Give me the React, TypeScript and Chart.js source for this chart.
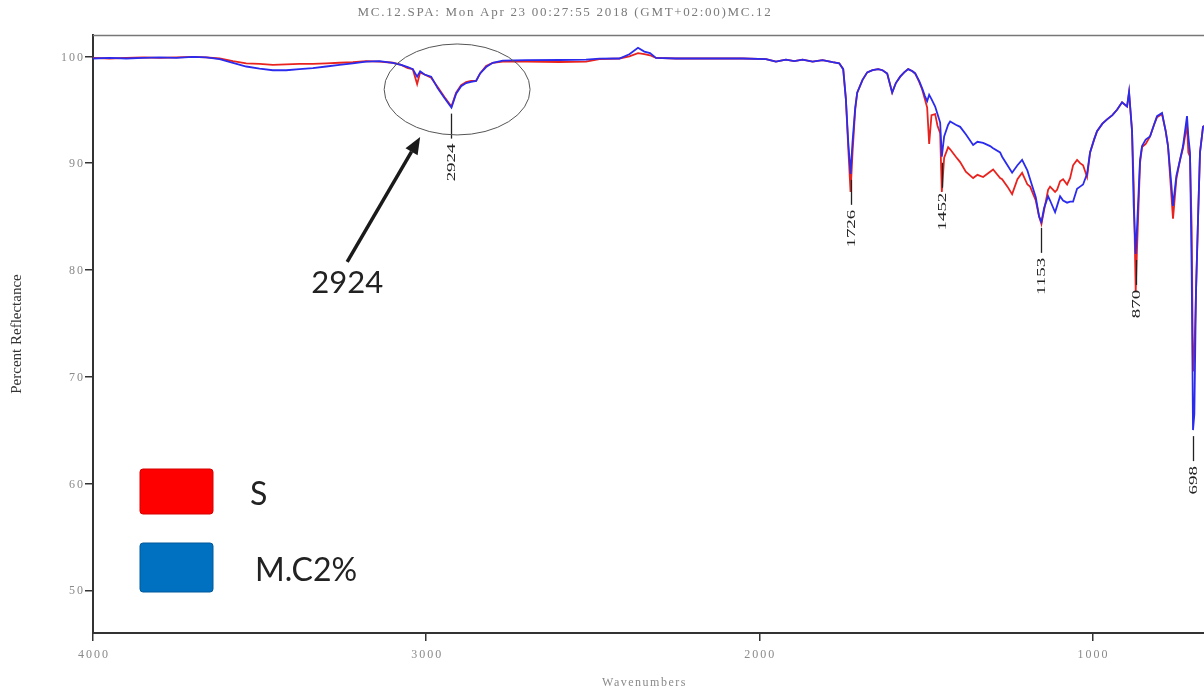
import { useEffect, useRef } from 'react';
import { Chart, registerables } from 'chart.js';

Chart.register(...registerables);

// Wavenumber grid (cm-1), descending, shared by both spectra
const wavenumbers = [
  4000, 3950, 3900, 3850, 3800, 3750, 3700, 3660, 3620, 3580, 3540, 3500, 3460, 3420, 3380, 3340,
  3300, 3260, 3220, 3180, 3140, 3100, 3075, 3055, 3040, 3027, 3018, 3005, 2985, 2965, 2945, 2924,
  2910, 2895, 2880, 2865, 2850, 2838, 2820, 2800, 2770, 2700, 2600, 2520, 2480, 2420, 2390, 2364,
  2345, 2328, 2310, 2250, 2150, 2050, 1980, 1950, 1920, 1895, 1870, 1840, 1810, 1780, 1760, 1748,
  1740, 1733, 1726, 1720, 1712, 1706, 1690, 1676, 1660, 1643, 1630, 1616, 1601, 1590, 1577, 1565,
  1553, 1540, 1532, 1520, 1511, 1503, 1496, 1490, 1483, 1472, 1465, 1457, 1452, 1445, 1433, 1427,
  1410, 1397, 1380, 1358, 1345, 1328, 1307, 1298, 1277, 1271, 1255, 1241, 1225, 1211, 1195, 1187,
  1170, 1160, 1153, 1145, 1133, 1127, 1112, 1106, 1097, 1088, 1076, 1067, 1058, 1046, 1037, 1028,
  1016, 1007, 995, 986, 970, 956, 940, 926, 911, 896, 890, 881, 876, 870, 866, 857,
  851, 840, 827, 815, 806, 791, 780, 773, 763, 758, 748, 737, 728, 716, 712, 707,
  702, 698, 694, 689, 683, 677, 668, 665,
];

// Percent reflectance, sample S
const reflectanceS = [
  99.85, 99.8, 99.85, 99.9, 99.85, 99.9, 99.95, 99.9, 99.8, 99.55, 99.35, 99.3, 99.2, 99.25, 99.3, 99.3,
  99.35, 99.4, 99.45, 99.55, 99.5, 99.4, 99.2, 98.9, 98.8, 97.4, 98.5, 98.3, 98.0, 97.1, 96.2, 95.3,
  96.6, 97.3, 97.6, 97.7, 97.7, 98.4, 99.1, 99.4, 99.5, 99.5, 99.47, 99.5, 99.75, 99.8, 100.0, 100.3,
  100.2, 100.1, 99.85, 99.8, 99.8, 99.8, 99.75, 99.5, 99.7, 99.55, 99.7, 99.5, 99.65, 99.45, 99.35, 98.8,
  96.0, 91.5, 87.3, 91.0, 95.0, 96.6, 97.8, 98.5, 98.7, 98.8, 98.7, 98.4, 96.6, 97.5, 98.1, 98.5,
  98.8, 98.6, 98.4, 97.6, 96.9, 96.0, 95.2, 91.8, 94.5, 94.6, 93.5, 92.8, 87.3, 90.5, 91.5, 91.3,
  90.6, 90.1, 89.2, 88.6, 88.9, 88.7, 89.2, 89.4, 88.6, 88.5, 87.8, 87.1, 88.5, 89.1, 88.0, 87.8,
  86.5, 85.0, 84.3, 85.6, 87.5, 87.8, 87.3, 87.5, 88.3, 88.5, 88.0, 88.6, 89.8, 90.3, 90.0, 89.8,
  88.7, 91.0, 92.2, 93.0, 93.7, 94.1, 94.5, 95.0, 95.7, 95.3, 96.6, 93.0, 88.0, 78.0, 82.0, 90.0,
  91.5, 91.8, 92.5, 93.6, 94.3, 94.6, 93.0, 91.6, 87.0, 84.8, 88.5, 90.3, 91.4, 93.6, 91.0, 90.6,
  84.0, 70.5, 72.0, 78.0, 84.7, 91.0, 93.4, 93.5,
];

// Percent reflectance, sample M.C2%
const reflectanceMC2 = [
  99.8, 99.85, 99.8, 99.85, 99.9, 99.85, 99.95, 99.9, 99.75, 99.4, 99.05, 98.85, 98.7, 98.7, 98.8, 98.9,
  99.05, 99.2, 99.35, 99.5, 99.55, 99.4, 99.2, 99.0, 98.8, 98.1, 98.6, 98.3, 98.1, 97.0, 96.1, 95.2,
  96.5, 97.2, 97.5, 97.6, 97.7, 98.4, 99.0, 99.4, 99.6, 99.65, 99.66, 99.7, 99.78, 99.8, 100.2, 100.8,
  100.45, 100.3, 99.85, 99.8, 99.8, 99.8, 99.75, 99.5, 99.7, 99.55, 99.7, 99.5, 99.65, 99.45, 99.35, 98.8,
  96.0, 92.0, 89.0, 92.0, 95.2, 96.6, 97.8, 98.5, 98.7, 98.8, 98.7, 98.4, 96.6, 97.5, 98.1, 98.5,
  98.8, 98.6, 98.4, 97.7, 97.0, 96.3, 95.8, 96.4, 96.0, 95.3, 94.6, 93.8, 90.6, 92.5, 93.6, 93.9,
  93.6, 93.4, 92.7, 91.7, 92.0, 91.9, 91.6, 91.4, 91.0, 90.6, 89.8, 89.1, 89.8, 90.3, 89.3, 88.5,
  86.8, 85.0, 84.5, 85.8, 86.9, 86.5, 85.4, 86.0, 86.9, 86.5, 86.3, 86.4, 86.4, 87.6, 87.8, 88.0,
  89.0, 91.0, 92.2, 93.0, 93.7, 94.1, 94.5, 95.0, 95.7, 95.3, 96.7, 93.0, 86.0, 81.5, 84.0, 90.3,
  91.6, 92.2, 92.5, 93.6, 94.4, 94.7, 93.0, 91.6, 88.0, 86.0, 88.8, 90.3, 91.6, 94.4, 92.5, 91.0,
  80.0, 65.0, 66.5, 78.0, 84.7, 91.0, 93.4, 93.5,
];

const seriesNames = ['S', 'M.C2%'];
const yTicks = [50, 60, 70, 80, 90, 100];
const xTicks = [4000, 3000, 2000, 1000];
const peakMarkers = [2924, 1726, 1452, 1153, 870, 698];

const titleText = 'MC.12.SPA: Mon Apr 23 00:27:55 2018 (GMT+02:00)MC.12';
const xTitle = 'Wavenumbers';
const yTitle = 'Percent Reflectance';

// Highlighted C-H stretch region: ellipse, arrow and callout label (data units)
const calloutLabel = '2924';
const calloutEllipse = { x: 2907, y: 96.9, rx: 219, ry: 4.26 };
const calloutArrow = { fromX: 3237, fromY: 80.75, toX: 3018, toY: 92.45 };
const calloutText = { x: 3237, y: 78.8 };

const COLOR_S = '#e8231f';
const COLOR_MC2 = '#2b2bee';
const LEGEND_S = '#ff0000';
const LEGEND_MC2 = '#0070c0';

const spectrumPlugin = {
  id: 'spectrumDecor',
  afterDatasetsDraw(chart: any) {
    const { ctx, chartArea, scales } = chart;
    const xs = scales.x;
    const ys = scales.y;
    ctx.save();

    // top frame line
    ctx.strokeStyle = '#777';
    ctx.lineWidth = 1.5;
    ctx.beginPath();
    ctx.moveTo(chartArea.left, chartArea.top + 0.5);
    ctx.lineTo(chartArea.right, chartArea.top + 0.5);
    ctx.stroke();

    // peak markers: tick line under the M.C2% trace plus rotated wavenumber label
    peakMarkers.forEach((wn) => {
      const idx = wavenumbers.indexOf(wn);
      if (idx < 0) return;
      const px = Math.round(xs.getPixelForValue(wn)) + 0.5;
      const py = ys.getPixelForValue(reflectanceMC2[idx]);
      const y0 = py + 6;
      const y1 = y0 + 25;
      ctx.strokeStyle = '#222';
      ctx.lineWidth = 1.3;
      ctx.beginPath();
      ctx.moveTo(px, y0);
      ctx.lineTo(px, y1);
      ctx.stroke();

      ctx.save();
      ctx.translate(px, y1 + 5);
      ctx.rotate(-Math.PI / 2);
      ctx.scale(1.45, 1);
      ctx.fillStyle = '#222';
      ctx.font = '13px "Liberation Serif", serif';
      ctx.textAlign = 'right';
      ctx.textBaseline = 'middle';
      ctx.fillText(String(wn), 0, 0);
      ctx.restore();
    });

    // ellipse around the 2924 band
    const ecx = xs.getPixelForValue(calloutEllipse.x);
    const ecy = ys.getPixelForValue(calloutEllipse.y);
    const erx = Math.abs(xs.getPixelForValue(calloutEllipse.x + calloutEllipse.rx) - ecx);
    const ery = Math.abs(ys.getPixelForValue(calloutEllipse.y + calloutEllipse.ry) - ecy);
    ctx.strokeStyle = '#555';
    ctx.lineWidth = 1;
    ctx.beginPath();
    ctx.ellipse(ecx, ecy, erx, ery, 0, 0, Math.PI * 2);
    ctx.stroke();

    // arrow
    const ax0 = xs.getPixelForValue(calloutArrow.fromX);
    const ay0 = ys.getPixelForValue(calloutArrow.fromY);
    const ax1 = xs.getPixelForValue(calloutArrow.toX);
    const ay1 = ys.getPixelForValue(calloutArrow.toY);
    const ang = Math.atan2(ay1 - ay0, ax1 - ax0);
    const headLen = 17;
    const headHalf = 7;
    const bx = ax1 - headLen * Math.cos(ang);
    const by = ay1 - headLen * Math.sin(ang);
    ctx.strokeStyle = '#1a1a1a';
    ctx.fillStyle = '#1a1a1a';
    ctx.lineWidth = 3.5;
    ctx.beginPath();
    ctx.moveTo(ax0, ay0);
    ctx.lineTo(bx, by);
    ctx.stroke();
    ctx.beginPath();
    ctx.moveTo(ax1, ay1);
    ctx.lineTo(bx + headHalf * Math.sin(ang), by - headHalf * Math.cos(ang));
    ctx.lineTo(bx - headHalf * Math.sin(ang), by + headHalf * Math.cos(ang));
    ctx.closePath();
    ctx.fill();

    // callout text
    ctx.fillStyle = '#222';
    ctx.font = '31px Lato, "Liberation Sans", sans-serif';
    ctx.textAlign = 'center';
    ctx.textBaseline = 'middle';
    ctx.fillText(calloutLabel, xs.getPixelForValue(calloutText.x), ys.getPixelForValue(calloutText.y));

    // legend swatches
    const lx = chartArea.left + 47;
    const swW = 73;
    const swH = [45, 49];
    const swTop = [chartArea.top + 434, chartArea.top + 508];
    const swColors = [LEGEND_S, LEGEND_MC2];
    const swEdges = ['#d40000', '#005a9c'];
    seriesNames.forEach((name, i) => {
      ctx.fillStyle = swColors[i];
      ctx.strokeStyle = swEdges[i];
      ctx.lineWidth = 1;
      ctx.beginPath();
      ctx.roundRect(lx, swTop[i], swW, swH[i], 3);
      ctx.fill();
      ctx.stroke();
      ctx.fillStyle = '#222';
      ctx.font = '32px Lato, "Liberation Sans", sans-serif';
      ctx.textAlign = 'left';
      ctx.textBaseline = 'middle';
      ctx.fillText(name, lx + (i === 0 ? 110 : 115), swTop[i] + swH[i] / 2 + 3);
    });

    ctx.restore();
  },
  afterDraw(chart: any) {
    const { ctx, chartArea, scales } = chart;
    const xs = scales.x;
    const ys = scales.y;
    ctx.save();
    ctx.fillStyle = '#8a8a8a';
    ctx.font = '12px "Liberation Serif", serif';
    (ctx as any).letterSpacing = '2px';

    // y tick labels
    ctx.textAlign = 'right';
    ctx.textBaseline = 'middle';
    yTicks.forEach((v) => {
      ctx.fillText(String(v), chartArea.left - 8, ys.getPixelForValue(v) + 1);
    });

    // x tick labels
    ctx.textAlign = 'center';
    ctx.textBaseline = 'middle';
    xTicks.forEach((v) => {
      ctx.fillText(String(v), xs.getPixelForValue(v) + 1, chartArea.bottom + 22);
    });

    // x title
    (ctx as any).letterSpacing = '1.5px';
    ctx.fillText(xTitle, (chartArea.left + 1204) / 2 - 4, chartArea.bottom + 50);

    // chart title
    ctx.fillStyle = '#7a7a7a';
    ctx.font = '13px "Liberation Serif", serif';
    (ctx as any).letterSpacing = '1.7px';
    ctx.fillText(titleText, 565, 13);

    // y title
    (ctx as any).letterSpacing = '0px';
    ctx.save();
    ctx.translate(17, (chartArea.top + chartArea.bottom) / 2);
    ctx.rotate(-Math.PI / 2);
    ctx.fillStyle = '#333';
    ctx.font = '15px "Liberation Serif", serif';
    ctx.textAlign = 'center';
    ctx.textBaseline = 'middle';
    ctx.fillText(yTitle, 0, 0);
    ctx.restore();

    ctx.restore();
  },
};

export default function App() {
  const canvasRef = useRef<HTMLCanvasElement | null>(null);

  useEffect(() => {
    const canvas = canvasRef.current;
    if (!canvas) return;
    const toPoints = (vals: number[]) => wavenumbers.map((w, i) => ({ x: w, y: vals[i] }));
    const chart = new Chart(canvas, {
      type: 'line',
      data: {
        datasets: [
          {
            label: seriesNames[0],
            data: toPoints(reflectanceS),
            borderColor: COLOR_S,
            borderWidth: 1.8,
            pointRadius: 0,
            tension: 0,
            order: 1,
          },
          {
            label: seriesNames[1],
            data: toPoints(reflectanceMC2),
            borderColor: COLOR_MC2,
            borderWidth: 1.8,
            pointRadius: 0,
            tension: 0,
            order: 0,
          },
        ],
      },
      options: {
        responsive: false,
        animation: false,
        devicePixelRatio: 1,
        layout: { padding: { top: 35, right: 0, left: 0, bottom: 0 } },
        plugins: {
          legend: { display: false },
          tooltip: { enabled: false },
          title: { display: false },
        },
        scales: {
          x: {
            type: 'linear',
            reverse: true,
            min: 665,
            max: 4000,
            afterBuildTicks: (scale: any) => {
              scale.ticks = xTicks.map((v) => ({ value: v }));
            },
            afterFit: (scale: any) => {
              scale.height = 60;
            },
            ticks: { display: false },
            grid: {
              drawOnChartArea: false,
              drawTicks: true,
              tickLength: 8,
              color: '#333',
              lineWidth: 1.5,
            },
            border: { display: true, color: '#333', width: 2 },
          },
          y: {
            type: 'linear',
            min: 46,
            max: 102,
            afterBuildTicks: (scale: any) => {
              scale.ticks = yTicks.map((v) => ({ value: v }));
            },
            afterFit: (scale: any) => {
              scale.width = 93;
            },
            ticks: { display: false },
            grid: {
              drawOnChartArea: false,
              drawTicks: true,
              tickLength: 8,
              color: '#333',
              lineWidth: 1.5,
            },
            border: { display: true, color: '#333', width: 2 },
          },
        },
      },
      plugins: [spectrumPlugin],
    });
    return () => chart.destroy();
  }, []);

  return (
    <div
      style={{
        position: 'fixed',
        left: 0,
        top: 0,
        width: 1204,
        height: 693,
        background: '#fff',
      }}
    >
      <canvas ref={canvasRef} width={1204} height={693} style={{ display: 'block' }} />
    </div>
  );
}
